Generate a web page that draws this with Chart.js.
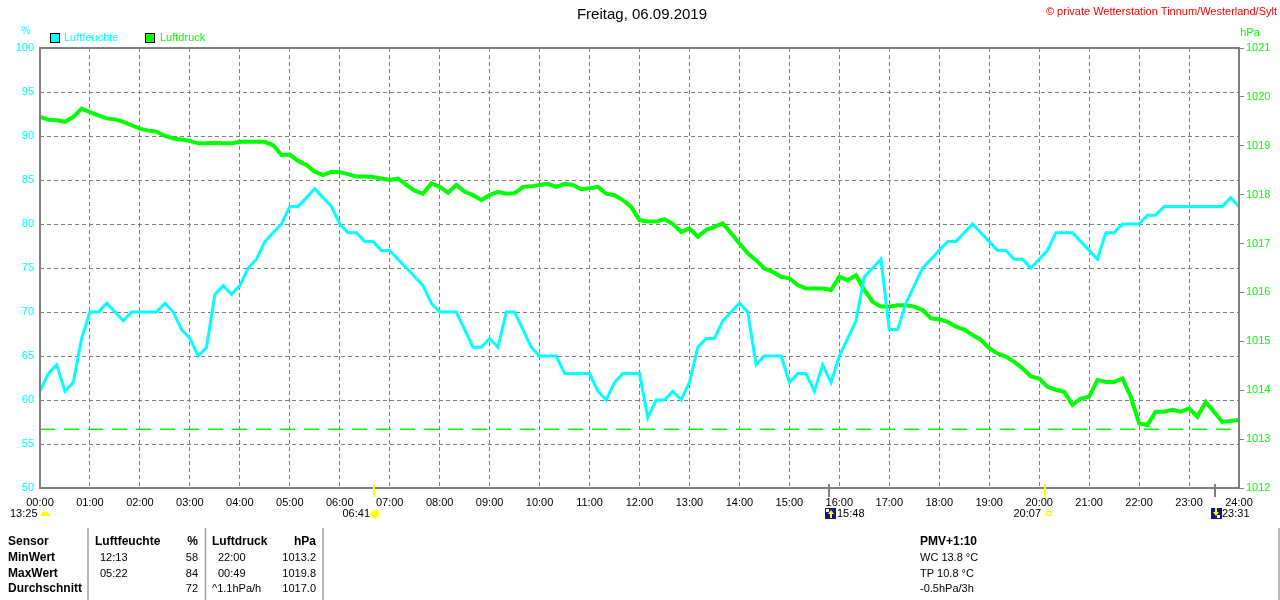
<!DOCTYPE html>
<html>
<head>
<meta charset="utf-8">
<title>Freitag, 06.09.2019</title>
<script src="https://cdn.jsdelivr.net/npm/chart.js@4/dist/chart.umd.min.js"></script>
<style>
  body { margin: 0; background: #fff; }
  canvas { display: block; }
</style>
</head>
<body>
<canvas id="myChart" width="1280" height="600"></canvas>
<script>
// Werte alle 10 Minuten, 00:00 bis 24:00
var stepMin = 10;

// Luftfeuchte in %
var humidity = [
  61, 63, 64, 61, 62, 67,
  70, 70, 71, 70, 69, 70,
  70, 70, 70, 71, 70, 68,
  67, 65, 66, 72, 73, 72,
  73, 75, 76, 78, 79, 80,
  82, 82, 83, 84, 83, 82,
  80, 79, 79, 78, 78, 77,
  77, 76, 75, 74, 73, 71,
  70, 70, 70, 68, 66, 66,
  67, 66, 70, 70, 68, 66,
  65, 65, 65, 63, 63, 63,
  63, 61, 60, 62, 63, 63,
  63, 58, 60, 60, 61, 60,
  62, 66, 67, 67, 69, 70,
  71, 70, 64, 65, 65, 65,
  62, 63, 63, 61, 64, 62,
  65, 67, 69, 74, 75, 76,
  68, 68, 71, 73, 75, 76,
  77, 78, 78, 79, 80, 79,
  78, 77, 77, 76, 76, 75,
  76, 77, 79, 79, 79, 78,
  77, 76, 79, 79, 80, 80,
  80, 81, 81, 82, 82, 82,
  82, 82, 82, 82, 82, 83,
  82
];

// Luftdruck in hPa
var pressure = [
  1019.59, 1019.53, 1019.52, 1019.49, 1019.59, 1019.76,
  1019.69, 1019.62, 1019.56, 1019.54, 1019.49, 1019.42,
  1019.35, 1019.31, 1019.29, 1019.20, 1019.15, 1019.13,
  1019.10, 1019.05, 1019.05, 1019.06, 1019.05, 1019.05,
  1019.08, 1019.08, 1019.08, 1019.08, 1019.01, 1018.81,
  1018.82, 1018.69, 1018.61, 1018.47, 1018.40, 1018.47,
  1018.46, 1018.42, 1018.37, 1018.37, 1018.36, 1018.33,
  1018.30, 1018.33, 1018.20, 1018.08, 1018.02, 1018.23,
  1018.16, 1018.04, 1018.20, 1018.06, 1017.99, 1017.89,
  1017.99, 1018.06, 1018.02, 1018.03, 1018.16, 1018.17,
  1018.20, 1018.22, 1018.16, 1018.22, 1018.20, 1018.11,
  1018.13, 1018.16, 1018.02, 1017.99, 1017.89, 1017.75,
  1017.48, 1017.45, 1017.45, 1017.50, 1017.40, 1017.24,
  1017.31, 1017.14, 1017.28, 1017.34, 1017.41, 1017.21,
  1017.00, 1016.80, 1016.66, 1016.49, 1016.42, 1016.32,
  1016.29, 1016.15, 1016.08, 1016.08, 1016.08, 1016.05,
  1016.32, 1016.25, 1016.35, 1016.05, 1015.81, 1015.71,
  1015.71, 1015.74, 1015.74, 1015.71, 1015.64, 1015.47,
  1015.45, 1015.40, 1015.30, 1015.24, 1015.13, 1015.03,
  1014.86, 1014.75, 1014.69, 1014.58, 1014.45, 1014.28,
  1014.24, 1014.07, 1014.01, 1013.97, 1013.70, 1013.83,
  1013.87, 1014.21, 1014.17, 1014.17, 1014.24, 1013.87,
  1013.32, 1013.29, 1013.56, 1013.56, 1013.60, 1013.56,
  1013.63, 1013.46, 1013.76, 1013.56, 1013.35, 1013.37,
  1013.39
];

// Minimum Luftdruck (gestrichelte Linie)
var pressureMin = 1013.2;
var pressureMinEnd = 1430;

// Sonne / Mond
var sunRise = '06:41';
var moonRise = '15:48';
var sunSet = '20:07';
var moonSet = '23:31';
var dayLength = '13:25';

// Tabelle
var tableHead = ['Sensor', 'Luftfeuchte', '%', 'Luftdruck', 'hPa'];
var tableRows = [
  ['MinWert', '12:13', '58', '22:00', '1013.2'],
  ['MaxWert', '05:22', '84', '00:49', '1019.8'],
  ['Durchschnitt', '', '72', '^1.1hPa/h', '1017.0']
];
var infoLines = ['PMV+1:10', 'WC 13.8 °C', 'TP 10.8 °C', '-0.5hPa/3h'];

var FONT = '"Liberation Sans", Arial, sans-serif';
var GREY = '#808080';
var CYAN = '#00ffff';
var GREEN = '#00ff00';

const toMin = (s) => { var p = s.split(':'); return +p[0] * 60 + +p[1]; };
const pad2 = (n) => (n < 10 ? '0' : '') + n;

const extras = {
  id: 'extras',
  afterDraw(chart) {
    var ctx = chart.ctx;
    var a = chart.chartArea;
    var xs = chart.scales.x;
    ctx.save();

    //Rahmen
    ctx.strokeStyle = GREY;
    ctx.lineWidth = 2;
    ctx.strokeRect(a.left, a.top, a.right - a.left, a.bottom - a.top);

    //Titel
    ctx.textBaseline = 'middle';
    ctx.fillStyle = '#000';
    ctx.font = '15px ' + FONT;
    ctx.textAlign = 'center';
    ctx.fillText('Freitag, 06.09.2019', 642, 15);

    ctx.fillStyle = '#ff0000';
    ctx.font = '11px ' + FONT;
    ctx.textAlign = 'right';
    ctx.fillText('© private Wetterstation Tinnum/Westerland/Sylt', 1277, 12);

    //Einheiten
    ctx.textAlign = 'center';
    ctx.fillStyle = CYAN;
    ctx.fillText('%', 26, 31);
    ctx.fillStyle = GREEN;
    ctx.fillText('hPa', 1250, 33);

    //Legende
    ctx.lineWidth = 1;
    ctx.strokeStyle = '#000';
    ctx.fillStyle = CYAN;
    ctx.fillRect(50.5, 33.5, 9, 9);
    ctx.strokeRect(50.5, 33.5, 9, 9);
    ctx.fillStyle = GREEN;
    ctx.fillRect(145.5, 33.5, 9, 9);
    ctx.strokeRect(145.5, 33.5, 9, 9);
    ctx.textAlign = 'left';
    ctx.fillStyle = CYAN;
    ctx.fillText('Luftfeuchte', 64, 38);
    ctx.fillStyle = GREEN;
    ctx.fillText('Luftdruck', 160, 38);

    //Sonne und Mond Markierungen
    var yT = 513;
    var mark = (t, col) => {
      var x = Math.round(xs.getPixelForValue(toMin(t)));
      ctx.strokeStyle = col;
      ctx.lineWidth = 2;
      ctx.beginPath();
      ctx.moveTo(x, 484);
      ctx.lineTo(x, 497);
      ctx.stroke();
      return x;
    };
    var moonIcon = (x, up) => {
      ctx.fillStyle = '#101880';
      ctx.fillRect(x, yT - 5, 11, 11);
      ctx.fillStyle = '#ffffff';
      ctx.fillRect(up ? x + 1 : x + 6, up ? yT - 4 : yT + 2, 3, 3);
      ctx.fillStyle = '#ffff00';
      ctx.beginPath();
      if (up) {
        ctx.moveTo(x + 6, yT - 3); ctx.lineTo(x + 9, yT + 1); ctx.lineTo(x + 3, yT + 1);
      } else {
        ctx.moveTo(x + 5, yT + 3); ctx.lineTo(x + 8, yT - 1); ctx.lineTo(x + 2, yT - 1);
      }
      ctx.fill();
      ctx.fillRect(up ? x + 5 : x + 4, up ? yT + 1 : yT - 5, 2, 4);
    };

    ctx.font = '11px ' + FONT;
    ctx.fillStyle = '#000';

    // Tageslaenge
    ctx.textAlign = 'left';
    ctx.fillText(dayLength, 10, yT + 1);
    ctx.fillStyle = '#ffff00';
    ctx.beginPath();
    ctx.arc(45, yT + 3, 4.5, Math.PI, 0);
    ctx.fill();

    // Sonnenaufgang
    var x1 = mark(sunRise, '#ffff00');
    ctx.fillStyle = '#000';
    ctx.textAlign = 'right';
    ctx.fillText(sunRise, x1 - 4, yT + 1);
    ctx.fillStyle = '#ffff80';
    ctx.beginPath(); ctx.arc(x1 + 1, yT + 1, 5, 0, Math.PI * 2); ctx.fill();
    ctx.fillStyle = '#ffff00';
    ctx.beginPath(); ctx.arc(x1 + 1, yT + 1, 3.5, 0, Math.PI * 2); ctx.fill();

    // Mondaufgang
    var x2 = mark(moonRise, GREY);
    moonIcon(x2 - 4, true);
    ctx.fillStyle = '#000';
    ctx.textAlign = 'left';
    ctx.fillText(moonRise, x2 + 8, yT + 1);

    // Sonnenuntergang
    var x3 = mark(sunSet, '#ffff00');
    ctx.fillStyle = '#000';
    ctx.textAlign = 'right';
    ctx.fillText(sunSet, x3 - 4, yT + 1);
    ctx.strokeStyle = '#ffff00';
    ctx.lineWidth = 1;
    ctx.strokeRect(x3 + 1.5, yT - 1.5, 4, 4);

    // Monduntergang
    var x4 = mark(moonSet, GREY);
    moonIcon(x4 - 4, false);
    ctx.fillStyle = '#000';
    ctx.textAlign = 'left';
    ctx.fillText(moonSet, x4 + 7, yT + 1);

    //Tabelle
    ctx.strokeStyle = '#a0a0a0';
    ctx.lineWidth = 1.5;
    [88, 205.5, 323, 1279].forEach((lx) => {
      ctx.beginPath();
      ctx.moveTo(lx, 528);
      ctx.lineTo(lx, 600);
      ctx.stroke();
    });

    var rowY = [542, 558, 573.5, 589];
    // x-Position und Ausrichtung je Spalte
    var cols = [[8, 'left'], [100, 'left'], [198, 'right'], [218, 'left'], [316, 'right']];
    var headCols = [[8, 'left'], [95, 'left'], [198, 'right'], [212, 'left'], [316, 'right']];
    ctx.fillStyle = '#000';
    ctx.font = 'bold 12px ' + FONT;
    tableHead.forEach((t, i) => {
      ctx.textAlign = headCols[i][1];
      ctx.fillText(t, headCols[i][0], rowY[0]);
    });
    tableRows.forEach((row, r) => {
      row.forEach((t, i) => {
        ctx.font = (i === 0 ? 'bold 12px ' : '11px ') + FONT;
        var cx = cols[i][0];
        if (i === 3 && t.charAt(0) === '^') cx = 212;
        ctx.textAlign = cols[i][1];
        ctx.fillText(t, cx, rowY[r + 1]);
      });
    });

    infoLines.forEach((t, i) => {
      ctx.font = (i === 0 ? 'bold 12px ' : '11px ') + FONT;
      ctx.textAlign = 'left';
      ctx.fillText(t, 920, rowY[i]);
    });

    ctx.restore();
  }
};

const loadChart = () => {
  var ctx = document.getElementById('myChart').getContext('2d');
  var humPoints = humidity.map((v, i) => ({ x: i * stepMin, y: v }));
  var presPoints = pressure.map((v, i) => ({ x: i * stepMin, y: v }));

  new Chart(ctx, {
    type: 'line',
    data: {
      datasets: [
        {
          label: 'Luftfeuchte',
          data: humPoints,
          yAxisID: 'yHum',
          borderColor: CYAN,
          borderWidth: 3,
          pointRadius: 0,
          tension: 0
        },
        {
          label: 'Luftdruck',
          data: presPoints,
          yAxisID: 'yPres',
          borderColor: GREEN,
          borderWidth: 4,
          pointRadius: 0,
          tension: 0
        },
        {
          label: 'Min',
          data: [{ x: 0, y: pressureMin }, { x: pressureMinEnd, y: pressureMin }],
          yAxisID: 'yPres',
          borderColor: GREEN,
          borderWidth: 1.5,
          borderDash: [15, 9],
          pointRadius: 0
        }
      ]
    },
    options: {
      responsive: false,
      devicePixelRatio: 1,
      animation: false,
      events: [],
      layout: { padding: { top: 48, bottom: 82, left: 0, right: 0 } },
      plugins: {
        legend: { display: false },
        title: { display: false },
        tooltip: { enabled: false }
      },
      scales: {
        x: {
          type: 'linear',
          min: 0,
          max: 1440,
          afterFit: (s) => { s.height = 30; },
          afterBuildTicks: (s) => {
            s.ticks = [];
            for (var h = 0; h <= 24; h++) s.ticks.push({ value: h * 60 });
          },
          ticks: {
            color: '#000',
            font: { family: FONT, size: 11 },
            padding: 8,
            maxRotation: 0,
            autoSkip: false,
            callback: (v) => pad2(Math.round(v / 60)) + ':00'
          },
          grid: { color: GREY, lineWidth: 1, drawTicks: false },
          border: { display: false, dash: [4, 3] }
        },
        yHum: {
          position: 'left',
          min: 50,
          max: 100,
          afterFit: (s) => { s.width = 40; },
          ticks: {
            stepSize: 5,
            color: CYAN,
            font: { family: FONT, size: 11 },
            padding: 6,
            callback: (v) => String(v)
          },
          grid: { color: GREY, lineWidth: 1, drawTicks: false },
          border: { display: false, dash: [4, 3] }
        },
        yPres: {
          position: 'right',
          min: 1012,
          max: 1021,
          afterFit: (s) => { s.width = 41; },
          ticks: {
            stepSize: 1,
            color: GREEN,
            font: { family: FONT, size: 11 },
            padding: 2,
            callback: (v) => String(v)
          },
          grid: {
            drawOnChartArea: false,
            drawTicks: true,
            tickLength: 5,
            color: GREY
          },
          border: { display: false }
        }
      }
    },
    plugins: [extras]
  });
};

loadChart();
</script>
</body>
</html>
